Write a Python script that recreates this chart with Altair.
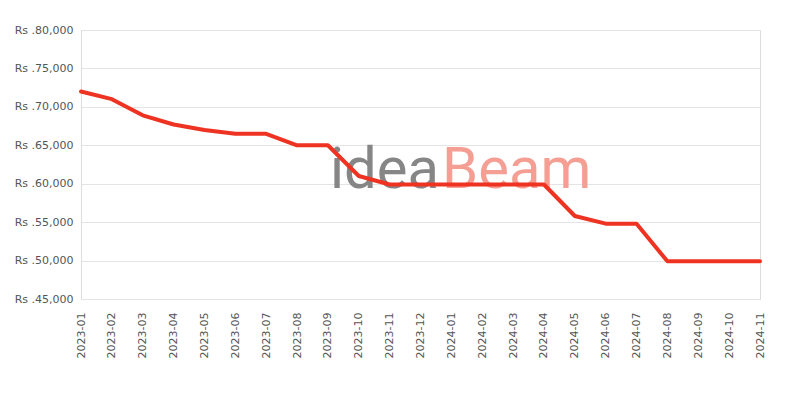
import altair as alt
import pandas as pd

months = ["2023-01", "2023-02", "2023-03", "2023-04", "2023-05", "2023-06",
          "2023-07", "2023-08", "2023-09", "2023-10", "2023-11", "2023-12",
          "2024-01", "2024-02", "2024-03", "2024-04", "2024-05", "2024-06",
          "2024-07", "2024-08", "2024-09", "2024-10", "2024-11"]
prices = [72000, 71000, 68900, 67700, 67000, 66500,
          66500, 65000, 65000, 61000, 59900, 59900,
          59900, 59900, 59900, 59900, 55800, 54800,
          54800, 49900, 49900, 49900, 49900]

df = pd.DataFrame({"month": months, "price": prices})

line = alt.Chart(df).mark_line(color="#ee3322", strokeWidth=4, interpolate="linear",
                               strokeJoin="round", strokeCap="round").encode(
    x=alt.X("month:O", sort=months,
            scale=alt.Scale(type="point", padding=0),
            axis=alt.Axis(title=None, labelAngle=-90, labelPadding=13, ticks=False,
                          domain=False, grid=False, labelFontSize=11,
                          labelColor="#555555", labelFont="DejaVu Sans")),
    y=alt.Y("price:Q", scale=alt.Scale(domain=[45000, 80000], nice=False, zero=False),
            axis=alt.Axis(title=None, values=[45000, 50000, 55000, 60000, 65000, 70000, 75000, 80000],
                          labelExpr="'Rs .' + format(datum.value, ',')",
                          ticks=False, labelPadding=8, domainColor="#dddddd",
                          gridColor="#e4e4e4", labelFontSize=11, labelColor="#555555",
                          labelFont="DejaVu Sans"))
)

wm1 = alt.Chart(pd.DataFrame({"t": ["idea"]})).mark_text(
    fontSize=58, font="Roboto", color="#808080", opacity=0.95, align="left", baseline="alphabetic"
).encode(x=alt.value(249), y=alt.value(158), text="t:N")
wm2 = alt.Chart(pd.DataFrame({"t": ["Beam"]})).mark_text(
    fontSize=58, font="Roboto", color="#f59a8f", opacity=0.95, align="left", baseline="alphabetic"
).encode(x=alt.value(361), y=alt.value(158), text="t:N")

chart = alt.layer(wm1, wm2, line).properties(
    width=679, height=269,
    autosize=alt.AutoSizeParams(type="none"),
    padding={"left": 73, "top": 22, "right": 32, "bottom": 93}
).configure_view(stroke="#dddddd").configure(background="white")

chart.save("out.html", embed_options={"renderer": "svg", "actions": False})
